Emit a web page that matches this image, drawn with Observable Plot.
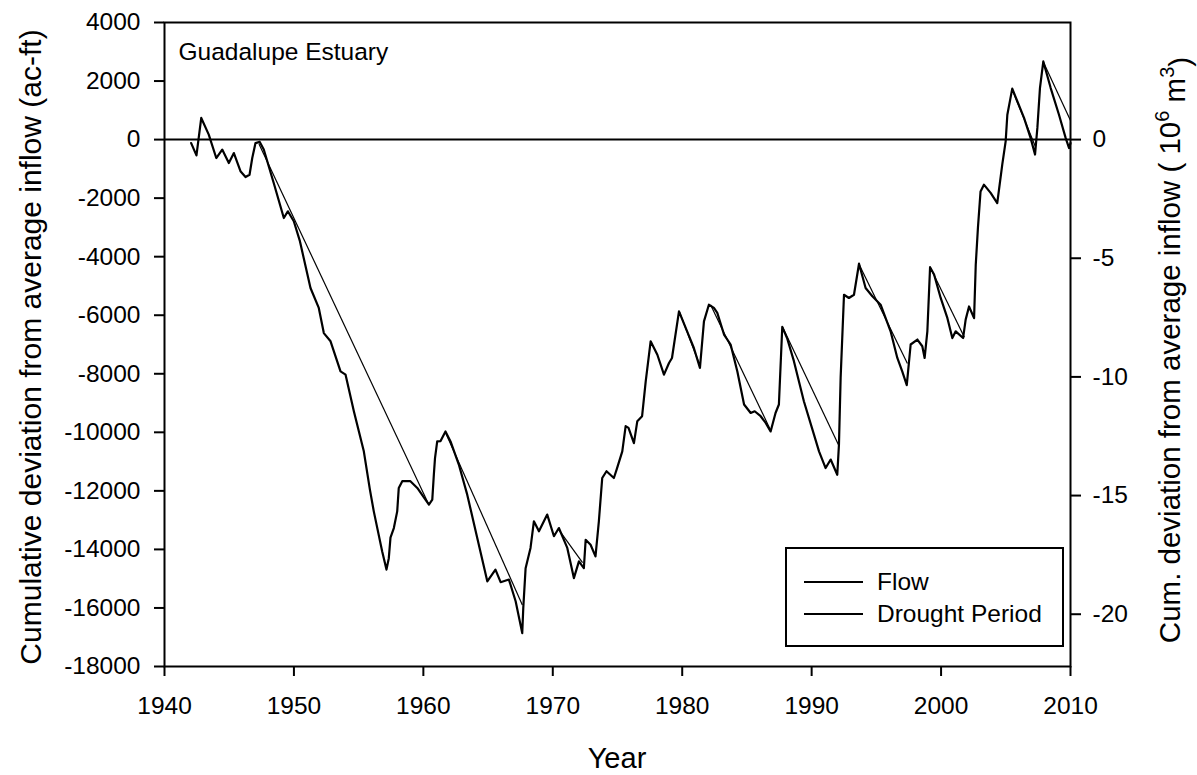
<!DOCTYPE html>
<html>
<head>
<meta charset="utf-8">
<script src="https://cdn.jsdelivr.net/npm/d3@7"></script>
<script src="https://cdn.jsdelivr.net/npm/@observablehq/plot@0.6"></script>
<style>
  html, body { margin: 0; padding: 0; background: white; overflow: hidden; }
  #chart { position: relative; width: 1197px; height: 775px; }
</style>
</head>
<body>
<div id="chart"></div>
<script>
// ---- data ----
const flowYear = [
  1942.06, 1942.47, 1942.84, 1943.42, 1944.0, 1944.46, 1944.97, 1945.36, 1945.87, 1946.26,
  1946.57, 1946.78, 1947.03, 1947.36, 1947.67, 1948.45, 1949.22, 1949.53, 1949.99, 1950.45,
  1951.28, 1951.92, 1952.31, 1952.83, 1953.6, 1953.99, 1954.63, 1955.4, 1955.87, 1956.17,
  1956.82, 1957.15, 1957.33, 1957.46, 1957.72, 1957.98, 1958.1, 1958.37, 1959.0, 1959.53,
  1960.43, 1960.69, 1960.81, 1960.9, 1961.07, 1961.33, 1961.71, 1962.1, 1962.74, 1963.39,
  1964.16, 1964.94, 1965.57, 1965.97, 1966.61, 1967.13, 1967.64, 1967.72, 1967.9, 1968.28,
  1968.54, 1968.93, 1969.57, 1970.09, 1970.47, 1971.12, 1971.63, 1972.02, 1972.4, 1972.54,
  1972.92, 1973.3, 1973.56, 1973.82, 1974.15, 1974.72, 1974.95, 1975.37, 1975.63, 1975.85,
  1976.27, 1976.53, 1976.9, 1977.18, 1977.56, 1978.08, 1978.59, 1978.98, 1979.21, 1979.75,
  1980.38, 1980.9, 1981.37, 1981.68, 1982.06, 1982.45, 1982.71, 1983.23, 1983.74, 1984.26,
  1984.78, 1985.29, 1985.6, 1986.06, 1986.45, 1986.83, 1987.21, 1987.47, 1987.73, 1988.1,
  1988.63, 1989.4, 1990.18, 1990.57, 1991.08, 1991.47, 1991.98, 1992.11, 1992.24, 1992.5,
  1992.88, 1993.27, 1993.66, 1994.17, 1994.69, 1995.33, 1996.1, 1996.62, 1997.0, 1997.35,
  1997.65, 1998.17, 1998.55, 1998.73, 1998.94, 1999.15, 1999.46, 1999.97, 2000.49, 2000.87,
  2001.13, 2001.7, 2001.9, 2002.16, 2002.55, 2002.68, 2002.85, 2003.05, 2003.31, 2003.83,
  2004.34, 2004.73, 2004.99, 2005.12, 2005.5, 2005.89, 2006.41, 2006.92, 2007.26, 2007.44,
  2007.64, 2007.9, 2008.47, 2009.11, 2009.63, 2009.89, 2010.0
];
const flowValue = [
  -120, -540, 740, 170, -630, -340, -800, -460, -1080, -1280,
  -1200, -630, -120, -80, -340, -1500, -2680, -2450, -2790, -3450,
  -5070, -5750, -6610, -6890, -7920, -8030, -9280, -10650, -11960, -12700,
  -14070, -14690, -14300, -13600, -13270, -12700, -11900, -11670, -11670, -11900,
  -12470, -12300, -11450, -10880, -10310, -10300, -9970, -10310, -11100, -12130,
  -13600, -15090, -14690, -15120, -15030, -15770, -16860, -16000, -14640, -13950,
  -13040, -13380, -12810, -13550, -13270, -13950, -14980, -14410, -14640, -13670,
  -13840, -14240, -13040, -11560, -11330, -11560, -11250, -10650, -9790, -9850,
  -10370, -9620, -9450, -8260, -6890, -7350, -8030, -7630, -7460, -5870,
  -6550, -7120, -7800, -6210, -5640, -5750, -5920, -6660, -7000, -7920,
  -9050, -9340, -9280, -9450, -9680, -9970, -9340, -9050, -6400, -6780,
  -7570, -8940, -10080, -10650, -11220, -10930, -11450, -10420, -8140, -5300,
  -5410, -5300, -4240, -5070, -5350, -5640, -6550, -7460, -7920, -8390,
  -7000, -6830, -7060, -7460, -6550, -4360, -4610, -5410, -6100, -6780,
  -6550, -6780, -6150, -5700, -6100, -4270, -3000, -1770, -1540, -1820,
  -2170, -850, -60, 850, 1740, 1310, 740, 50, -510, 400,
  1760, 2670, 1760, 850, 50, -290, -120
];
// drought periods: straight segments start -> end
const droughtStartYear  = [1947.3, 1961.7, 1970.5, 1979.8, 1982.2, 1987.75, 1993.65, 1999.15, 2005.5, 2007.9];
const droughtStartValue = [-150, -10000, -13350, -5900, -5650, -6400, -4250, -4350, 1700, 2650];
const droughtEndYear    = [1960.4, 1967.65, 1972.3, 1981.35, 1986.8, 1992.1, 1997.4, 2001.8, 2007.3, 2010.0];
const droughtEndValue   = [-12450, -15900, -14450, -7700, -9900, -10450, -7650, -6750, -250, 650];

const xTicks = [1940, 1950, 1960, 1970, 1980, 1990, 2000, 2010];
const yTicks = [4000, 2000, 0, -2000, -4000, -6000, -8000, -10000, -12000, -14000, -16000, -18000];
const rightTickLabels = [0, -5, -10, -15, -20];   // 10^6 m^3
const M3_PER_KAF = 1.2335;                         // 10^6 m^3 per 1000 ac-ft

const seriesNames = ["Flow", "Drought Period"];
const titleText = "Guadalupe Estuary";

// ---- tables built from the arrays ----
const flow = flowYear.map((y, i) => ({year: y, value: flowValue[i]}));
const drought = droughtStartYear.map((y, i) => ({
  x1: y, y1: droughtStartValue[i], x2: droughtEndYear[i], y2: droughtEndValue[i]
}));

const FONT = "'Liberation Sans', Arial, Helvetica, sans-serif";

const plot = Plot.plot({
  width: 1197,
  height: 775,
  marginLeft: 164,
  marginRight: 127,
  marginTop: 22,
  marginBottom: 109,
  style: {fontFamily: FONT, fontSize: "24.5px", color: "black", background: "white"},
  x: {domain: [1940, 2010]},
  y: {domain: [-18000, 4000]},
  marks: [
    Plot.ruleY([0], {stroke: "black", strokeWidth: 2}),
    Plot.link(drought, {x1: "x1", y1: "y1", x2: "x2", y2: "y2", stroke: "black", strokeWidth: 1.2}),
    Plot.line(flow, {x: "year", y: "value", stroke: "black", strokeWidth: 2.2, strokeLinejoin: "round"}),
    Plot.frame({stroke: "black", strokeWidth: 2}),
    Plot.axisX({ticks: xTicks, tickSize: 10, tickPadding: 20, strokeWidth: 2,
      tickFormat: d => String(d), label: null}),
    Plot.axisY({anchor: "left", ticks: yTicks, tickSize: 10, tickPadding: 14, strokeWidth: 2,
      tickFormat: d => String(d), label: null}),
    Plot.axisY({anchor: "right", ticks: rightTickLabels.map(v => v * 1000 / M3_PER_KAF),
      tickSize: 10, tickPadding: 12, strokeWidth: 2,
      tickFormat: d => String(Math.round(d * M3_PER_KAF / 1000)), label: null}),
    Plot.text([titleText], {frameAnchor: "top-left", dx: 14, dy: 20, textAnchor: "start",
      fontSize: 24.5, fill: "black", lineAnchor: "top"})
  ]
});

document.getElementById("chart").appendChild(plot);

// ---- axis titles and legend ----
const svg = d3.select(plot);
svg.append("text")
  .attr("transform", "translate(41,347) rotate(-90)")
  .attr("text-anchor", "middle")
  .attr("font-family", FONT).attr("font-size", 30).attr("fill", "black")
  .text("Cumulative deviation from average inflow (ac-ft)");

const rt = svg.append("text")
  .attr("transform", "translate(1180,350) rotate(-90)")
  .attr("text-anchor", "middle")
  .attr("font-family", FONT).attr("font-size", 29.5).attr("fill", "black");
rt.append("tspan").text("Cum. deviation from average inflow ( 10");
rt.append("tspan").attr("dy", "-0.55em").attr("font-size", 20).text("6");
rt.append("tspan").attr("dy", "0.55em").text(" m");
rt.append("tspan").attr("dy", "-0.55em").attr("font-size", 20).text("3");
rt.append("tspan").attr("dy", "0.55em").text(")");

svg.append("text")
  .attr("x", 617).attr("y", 768)
  .attr("text-anchor", "middle")
  .attr("font-family", FONT).attr("font-size", 29).attr("fill", "black")
  .text("Year");

// legend
const lg = svg.append("g").attr("text-anchor", "start");
lg.append("rect").attr("x", 786).attr("y", 548).attr("width", 277).attr("height", 98)
  .attr("fill", "white").attr("stroke", "black").attr("stroke-width", 2);
const legendY = [582, 614];
seriesNames.forEach((name, i) => {
  lg.append("line").attr("x1", 804).attr("x2", 863).attr("y1", legendY[i]).attr("y2", legendY[i])
    .attr("stroke", "black").attr("stroke-width", 2);
  lg.append("text").attr("x", 877).attr("y", legendY[i] + 8)
    .attr("text-anchor", "start")
    .attr("font-family", FONT).attr("font-size", 24.5).attr("fill", "black")
    .text(name);
});
</script>
</body>
</html>
